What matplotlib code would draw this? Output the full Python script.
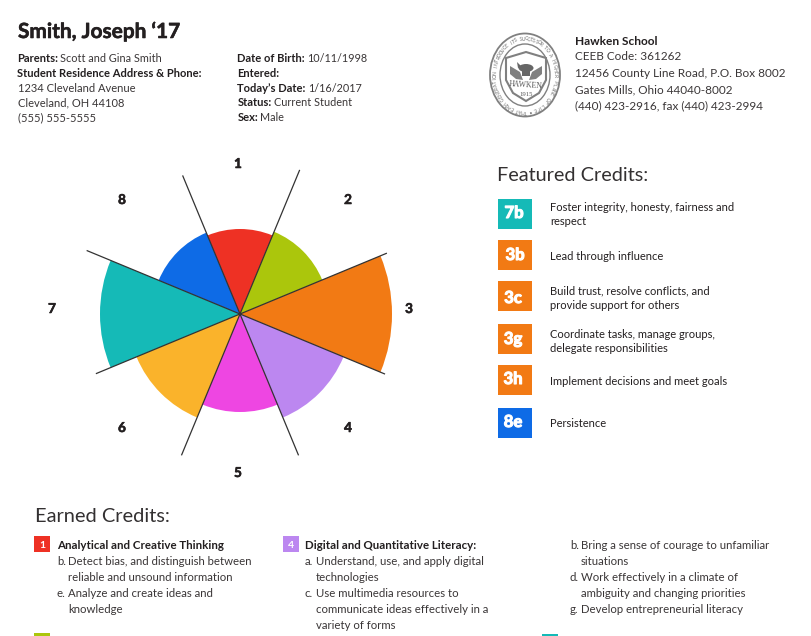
#!/usr/bin/env python3
"""Student transcript page with a credit wheel."""

import numpy as np
import matplotlib

matplotlib.use("Agg")
import matplotlib.pyplot as plt
import matplotlib.patheffects as pe
from matplotlib.patches import Ellipse, Polygon, Rectangle

plt.rcParams["font.family"] = ["Lato", "DejaVu Sans"]

INK = "#231f20"
BODY = "#3a3637"

# wheel
wheel_labels = ["1", "2", "3", "4", "5", "6", "7", "8"]
wheel_values = [85, 89, 152, 112, 98, 112, 140, 88]
wheel_colors = ["#ee3124", "#abc60c", "#f27a14", "#bc87f0",
                "#ee46e2", "#fab32b", "#15bab7", "#0e6be6"]
spoke_lengths = [156, 159, 157, 153, 153, 156, 166, 150]
label_pos = [(238, 164), (348, 200), (409, 309), (348, 428),
             (238, 473), (122, 428), (52, 309), (122, 200)]

# featured credits
featured_codes = ["7b", "3b", "3c", "3g", "3h", "8e"]
featured_colors = ["#15bab7", "#f27a14", "#f27a14", "#f27a14", "#f27a14", "#0e6be6"]
featured_text = [
    ["Foster integrity, honesty, fairness and", "respect"],
    ["Lead through influence"],
    ["Build trust, resolve conflicts, and", "provide support for others"],
    ["Coordinate tasks, manage groups,", "delegate responsibilities"],
    ["Implement decisions and meet goals"],
    ["Persistence"],
]
featured_top = [199, 240, 281, 324, 365, 408]
featured_code_x = [514, 515, 513, 513, 513, 513]
featured_code_y = [218, 260, 303, 344, 384, 427]
featured_text_y = [[211, 225], [260], [294, 309], [338, 352], [385], [427]]

# header block
left_col = [("Parents:", "Scott and Gina Smith", 62),
            ("Student Residence Address & Phone:", "", 77),
            ("", "1234 Cleveland Avenue", 92),
            ("", "Cleveland, OH 44108", 106),
            ("", "(555) 555-5555", 121)]
mid_col = [("Date of Birth:", "10/11/1998", 62),
           ("Entered:", "", 77),
           ("Today\u2019s Date:", "1/16/2017", 92),
           ("Status:", "Current Student", 106),
           ("Sex:", "Male", 121)]
school_lines = ["CEEB Code: 361262", "12456 County Line Road, P.O. Box 8002",
                "Gates Mills, Ohio 44040-8002", "(440) 423-2916, fax (440) 423-2994"]
school_y = [60, 77, 93, 109]

# earned credits: (label, first line, continuation lines)
earned_1 = [("b.", "Detect bias, and distinguish between", ["reliable and unsound information"]),
            ("e.", "Analyze and create ideas and", ["knowledge"])]
earned_4 = [("a.", "Understand, use, and apply digital", ["technologies"]),
            ("c.", "Use multimedia resources to",
             ["communicate ideas effectively in a", "variety of forms"])]
earned_col3 = [("b.", "Bring a sense of courage to unfamiliar", ["situations"]),
               ("d.", "Work effectively in a climate of", ["ambiguity and changing priorities"]),
               ("g.", "Develop entrepreneurial literacy", [])]

seal_ring = "THAT EACH GENERATION INTRODUCE ITS SUCCESSOR TO A HIGHER PLANE OF LIFE \u2022 "

fig = plt.figure(figsize=(8.12, 6.36), dpi=100)
page = fig.add_axes([0, 0, 1, 1])
page.set_xlim(0, 812)
page.set_ylim(636, 0)
page.axis("off")
rend = fig.canvas.get_renderer()


def put(x, y, s, size=7.9, weight="normal", color=INK, heavy=0, **kw):
    t = page.text(x, y, s, fontsize=size, fontweight=weight, color=color,
                  va="baseline", **kw)
    if heavy:
        t.set_path_effects([pe.withStroke(linewidth=heavy, foreground=color)])
    return t


def bold_then_plain(x, y, head, tail):
    t = put(x, y, head, size=8.0, weight="bold")
    if tail:
        box = t.get_window_extent(rend)
        put(box.x1 + 2, y, tail, size=7.8, color=BODY)


def credit_list(x, y, items):
    for label, first, rest in items:
        put(x, y, label, size=8.2, color=BODY)
        put(x + 11, y, first, size=8.2, color=BODY)
        y += 16
        for line in rest:
            put(x + 11, y, line, size=8.2, color=BODY)
            y += 16


# header
put(18, 38, "Smith, Joseph \u201817", size=15, weight="bold", heavy=0.4)
for head, tail, y in left_col:
    if head:
        bold_then_plain(17.5, y, head, tail)
    else:
        put(18, y, tail, size=8.0, color=BODY)
for head, tail, y in mid_col:
    bold_then_plain(237.5, y, head, tail)

put(575, 45, "Hawken School", size=8.6, weight="bold")
for line, y in zip(school_lines, school_y):
    put(575, y, line, size=8.45, color=BODY)

# seal
GREY = "#808080"
cx, cy = 525, 75
page.add_patch(Ellipse((cx, cy), 70, 83, fc="white", ec=GREY, lw=1.3))
page.add_patch(Ellipse((cx, cy), 50, 62, fc="none", ec=GREY, lw=1.0))
for i, ch in enumerate(seal_ring):
    a = 2 * np.pi * i / len(seal_ring) + np.pi
    page.text(cx + 30 * np.sin(a), cy - 36 * np.cos(a), ch, fontsize=3.5, color="#6e6e6e",
              ha="center", va="center", rotation=-np.degrees(a))
page.add_patch(Polygon([(506, 58), (526, 52), (546, 58), (546, 80), (539, 93),
                        (526, 101), (513, 93), (506, 80)],
                       fc="white", ec=GREY, lw=1.5))
page.add_patch(Polygon([(510, 66), (520, 72), (523, 80), (516, 79), (510, 74)], fc=GREY, ec="none"))
page.add_patch(Polygon([(542, 66), (532, 72), (529, 80), (536, 79), (542, 74)], fc=GREY, ec="none"))
page.add_patch(Ellipse((526, 68), 15, 8, fc="#666666", ec="none"))
page.add_patch(Polygon([(517, 62), (522, 67), (518, 68)], fc="#666666", ec="none"))
page.add_patch(Rectangle((522, 71), 8, 5, fc="#666666", ec="none"))
page.text(526, 88, "HAWKEN", fontsize=5.6, family="Liberation Serif", color="#555555",
          ha="center", va="baseline", rotation=-4)
page.text(526, 96, "1915", fontsize=4.8, family="Liberation Serif", color="#555555",
          ha="center", va="baseline")

# wheel, 1 unit = 1 px so the radii
R = 180
px, py = 240, 314
wheel = fig.add_axes([(px - R) / 812, (636 - py - R) / 636, 2 * R / 812, 2 * R / 636],
                     projection="polar")
wheel.set_theta_zero_location("N")
wheel.set_theta_direction(-1)
wheel.set_rlim(0, R)
wheel.axis("off")
wheel.patch.set_alpha(0)
step = 2 * np.pi / len(wheel_values)
centers = np.arange(len(wheel_values)) * step
wheel.bar(centers, wheel_values, width=step, color=wheel_colors, lw=0)
for c, s in zip(centers, spoke_lengths):
    wheel.plot([c + step / 2, c + step / 2], [0, s], color="#333333", lw=0.9, solid_capstyle="butt")
for s, (x, y) in zip(wheel_labels, label_pos):
    t = page.text(x, y, s, fontsize=9.8, fontweight="bold", color=INK, ha="center", va="center")
    t.set_path_effects([pe.withStroke(linewidth=0.4, foreground=INK)])

# featured credits
put(497, 181, "Featured Credits:", size=14.3, color="#333031")
for code, col, top, cx_, cy_, lines, ys in zip(featured_codes, featured_colors, featured_top,
                                               featured_code_x, featured_code_y,
                                               featured_text, featured_text_y):
    page.add_patch(Rectangle((498, top), 34, 30, fc=col, ec="none"))
    put(cx_, cy_, code, size=12, weight="bold", color="white", heavy=0.8, ha="center")
    for line, y in zip(lines, ys):
        put(550, y, line, size=8.0)

# earned credits
put(35, 522, "Earned Credits:", size=14.4, color="#333031")
page.add_patch(Rectangle((34, 536), 16, 16, fc="#ee3124", ec="none"))
put(42, 548, "1", size=7.5, weight="bold", color="white", ha="center")
put(57, 549, "Analytical and Creative Thinking", size=8.3, weight="bold")
credit_list(57, 565, earned_1)
page.add_patch(Rectangle((283, 536), 16, 16, fc="#bc87f0", ec="none"))
put(291, 548, "4", size=7.5, weight="bold", color="white", ha="center")
put(305, 549, "Digital and Quantitative Literacy:", size=8.3, weight="bold")
credit_list(305, 565, earned_4)
credit_list(570, 549, earned_col3)
page.add_patch(Rectangle((34, 633), 16, 3, fc="#abc60c", ec="none"))
page.add_patch(Rectangle((542, 634), 16, 2, fc="#15bab7", ec="none"))

fig.savefig("out.png", dpi=100)
